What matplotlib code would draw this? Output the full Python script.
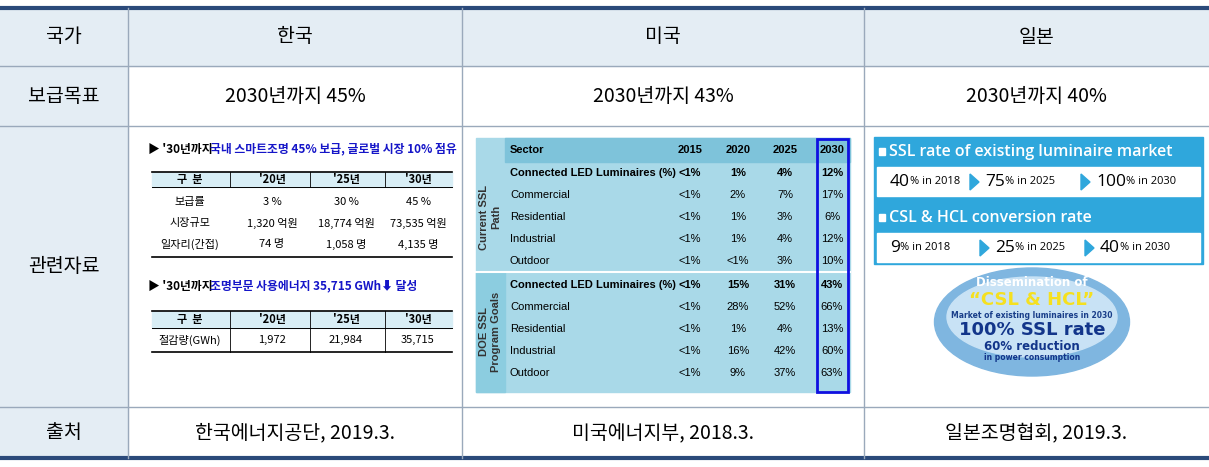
import matplotlib
matplotlib.use("Agg")
import matplotlib.pyplot as plt
from matplotlib.patches import Rectangle, Ellipse, Polygon

KR = ["Noto Sans CJK JP", "Noto Sans CJK KR", "DejaVu Sans"]
plt.rcParams["font.family"] = KR

countries = ["한국", "미국", "일본"]
targets = ["2030년까지 45%", "2030년까지 43%", "2030년까지 40%"]
sources = ["한국에너지공단, 2019.3.", "미국에너지부, 2018.3.", "일본조명협회, 2019.3."]
row_labels = ["국가", "보급목표", "관련자료", "출처"]

kr_cols = ["구  분", "'20년", "'25년", "'30년"]
kr_rows = ["보급률", "시장규모", "일자리(간접)"]
kr_vals = [["3 %", "30 %", "45 %"],
           ["1,320 억원", "18,774 억원", "73,535 억원"],
           ["74 명", "1,058 명", "4,135 명"]]
kr_save = ["1,972", "21,984", "35,715"]

us_years = ["2015", "2020", "2025", "2030"]
us_sectors = ["Connected LED Luminaires (%)", "Commercial", "Residential", "Industrial", "Outdoor"]
us_current = [["<1%", "1%", "4%", "12%"], ["<1%", "2%", "7%", "17%"], ["<1%", "1%", "3%", "6%"],
              ["<1%", "1%", "4%", "12%"], ["<1%", "<1%", "3%", "10%"]]
us_goal = [["<1%", "15%", "31%", "43%"], ["<1%", "28%", "52%", "66%"], ["<1%", "1%", "4%", "13%"],
           ["<1%", "16%", "42%", "60%"], ["<1%", "9%", "37%", "63%"]]

jp_ssl = [("40", "2018"), ("75", "2025"), ("100", "2030")]
jp_csl = [("9", "2018"), ("25", "2025"), ("40", "2030")]

W, H = 1209, 467
fig = plt.figure(figsize=(W/100, H/100), dpi=100)
ax = fig.add_axes([0, 0, 1, 1])
ax.set_xlim(0, W); ax.set_ylim(H, 0); ax.axis("off")

xs = [0, 128, 462, 864, 1209]
ys = [8, 66, 126, 407, 458]
navy = "#2b4a7a"
ax.add_patch(Rectangle((0, ys[0]), W, ys[1]-ys[0], color="#e4edf4", zorder=0))
ax.add_patch(Rectangle((0, ys[1]), xs[1], ys[4]-ys[1], color="#e4edf4", zorder=0))
ax.plot([0, W], [ys[0], ys[0]], color=navy, lw=3)
ax.plot([0, W], [ys[4], ys[4]], color=navy, lw=3)
for y in ys[1:4]:
    ax.plot([0, W], [y, y], color="#9aa9bb", lw=1)
for x in xs[1:4]:
    ax.plot([x, x], [ys[0], ys[4]], color="#9aa9bb", lw=1)
for i, t in enumerate(row_labels):
    ax.text(64, (ys[i]+ys[i+1])/2, t, ha="center", va="center", fontsize=14)
for j in range(3):
    cx = (xs[j+1]+xs[j+2])/2
    ax.text(cx, (ys[0]+ys[1])/2, countries[j], ha="center", va="center", fontsize=14)
    ax.text(cx, (ys[1]+ys[2])/2, targets[j], ha="center", va="center", fontsize=14)
    ax.text(cx, (ys[3]+ys[4])/2, sources[j], ha="center", va="center", fontsize=14)

# Korea panel
ax.text(148, 149, "▶ '30년까지", fontsize=8.5, fontweight="bold", va="center")
ax.text(210, 149, "국내 스마트조명 45% 보급, 글로벌 시장 10% 점유", fontsize=8.5, fontweight="bold", color="#1515c8", va="center")
kcx = [190, 272, 346, 418]
kx = [152, 230, 310, 385, 452]
ax.add_patch(Rectangle((152, 172), 300, 15, color="#d8eef6"))
ax.plot([152, 452], [172, 172], color="k", lw=1.2)
ax.plot([152, 452], [187, 187], color="k", lw=0.7)
ax.plot([152, 452], [257, 257], color="k", lw=1.2)
for x in kx[1:4]:
    ax.plot([x, x], [172, 187], color="k", lw=0.6)
for c, t in zip(kcx, kr_cols):
    ax.text(c, 180, t, ha="center", va="center", fontsize=8, fontweight="bold")
for i, r in enumerate(kr_rows):
    y = 202 + i*21
    ax.text(kcx[0], y, r, ha="center", va="center", fontsize=8)
    for c, v in zip(kcx[1:], kr_vals[i]):
        ax.text(c, y, v, ha="center", va="center", fontsize=8)
ax.text(148, 286, "▶ '30년까지", fontsize=8.5, fontweight="bold", va="center")
ax.text(210, 286, "조명부문 사용에너지 35,715 GWh⬇ 달성", fontsize=8.5, fontweight="bold", color="#1515c8", va="center")
ax.add_patch(Rectangle((152, 311), 300, 17, color="#d8eef6"))
ax.plot([152, 452], [311, 311], color="k", lw=1.2)
ax.plot([152, 452], [328, 328], color="k", lw=0.7)
ax.plot([152, 452], [352, 352], color="k", lw=1.2)
for x in kx[1:4]:
    ax.plot([x, x], [311, 352], color="k", lw=0.6)
for c, t in zip(kcx, kr_cols):
    ax.text(c, 320, t, ha="center", va="center", fontsize=8, fontweight="bold")
ax.text(kcx[0], 340, "절감량(GWh)", ha="center", va="center", fontsize=8)
for c, v in zip(kcx[1:], kr_save):
    ax.text(c, 340, v, ha="center", va="center", fontsize=8)

# US panel
F = "Liberation Sans"
ax.add_patch(Rectangle((476, 138), 374, 254, color="#a9d9e8", zorder=1))
ax.add_patch(Rectangle((505, 138), 345, 24, color="#7ec3da", zorder=1))
ax.add_patch(Rectangle((476, 272), 29, 120, color="#8ccde0", zorder=1))
ax.plot([476, 850], [272, 272], color="white", lw=1.5, zorder=2)
ax.text(510, 150, "Sector", fontsize=8, fontweight="bold", va="center", family=F, zorder=3)
ycx = [690, 738, 785, 832]
for c, t in zip(ycx, us_years):
    ax.text(c, 150, t, ha="center", va="center", fontsize=8, fontweight="bold", family=F, zorder=3)
for block, y0 in ((us_current, 173), (us_goal, 285)):
    for i, (s, vals) in enumerate(zip(us_sectors, block)):
        y = y0 + i*22
        fw = "bold" if i == 0 else "normal"
        ax.text(510, y, s, fontsize=8, va="center", fontweight=fw, family=F, zorder=3)
        for c, v in zip(ycx, vals):
            ax.text(c, y, v, ha="center", va="center", fontsize=8, family=F, zorder=3,
                    fontweight="bold" if i == 0 else "normal")
ax.text(490, 217, "Current SSL\nPath", rotation=90, ha="center", va="center", fontsize=8, fontweight="bold", family=F, color="#333", zorder=3)
ax.text(490, 332, "DOE SSL\nProgram Goals", rotation=90, ha="center", va="center", fontsize=8, fontweight="bold", family=F, color="#333", zorder=3)
ax.add_patch(Rectangle((817, 139), 31, 253, fill=False, ec="#1010e0", lw=2, zorder=4))

# Japan panel
O = "Open Sans"
ax.add_patch(Rectangle((874, 137), 329, 127, color="#2fa7dc", zorder=1))
ax.add_patch(Rectangle((877, 167), 323, 29, color="white", zorder=2))
ax.add_patch(Rectangle((877, 233), 323, 29, color="white", zorder=2))
ax.add_patch(Rectangle((879, 148), 6, 7, color="white", zorder=3))
ax.add_patch(Rectangle((879, 214), 6, 7, color="white", zorder=3))
ax.text(889, 152, "SSL rate of existing luminaire market", color="white", fontsize=11.5, fontweight="semibold", va="center", family=O, zorder=3)
ax.text(889, 218, "CSL & HCL conversion rate", color="white", fontsize=11.5, fontweight="semibold", va="center", family=O, zorder=3)
for vals, y, xpos in ((jp_ssl, 182, [890, 985, 1096]), (jp_csl, 248, [890, 995, 1100])):
    for k, ((p, yr), x) in enumerate(zip(vals, xpos)):
        t = ax.text(x, y, p, fontsize=12.5, va="center", family=O, zorder=3)
        ax.annotate("% in " + yr, xy=(1, 0), xycoords=t, xytext=(0, 2), textcoords="offset points",
                    fontsize=8, va="bottom", family=O, zorder=3)
        if k < 2:
            ax.add_patch(Polygon([[xpos[k+1]-15, y-8], [xpos[k+1]-15, y+8], [xpos[k+1]-6, y]], color="#2fa7dc", zorder=3))
ax.add_patch(Ellipse((1032, 322), 195, 108, color="#7fb6e0", zorder=1))
ax.add_patch(Ellipse((1032, 317), 170, 80, color="#c8e2f5", zorder=1))
ax.text(1032, 283, "Dissemination of", ha="center", va="center", fontsize=8.5, fontweight="bold", color="white", family="DejaVu Sans", zorder=3)
ax.text(1032, 300, "“CSL & HCL”", ha="center", va="center", fontsize=13, fontweight="bold", color="#f5e020", family="DejaVu Sans", zorder=3)
ax.text(1032, 315, "Market of existing luminaires in 2030", ha="center", va="center", fontsize=5.5, fontweight="bold", color="#1a3f8a", family="DejaVu Sans", zorder=3)
ax.text(1032, 330, "100% SSL rate", ha="center", va="center", fontsize=13, fontweight="bold", color="#12358a", family="DejaVu Sans", zorder=3)
ax.text(1032, 347, "60% reduction", ha="center", va="center", fontsize=8.5, fontweight="bold", color="#12358a", family="DejaVu Sans", zorder=3)
ax.text(1032, 357, "in power consumption", ha="center", va="center", fontsize=5.5, fontweight="bold", color="#12358a", family="DejaVu Sans", zorder=3)

fig.savefig("out.png", dpi=100)
